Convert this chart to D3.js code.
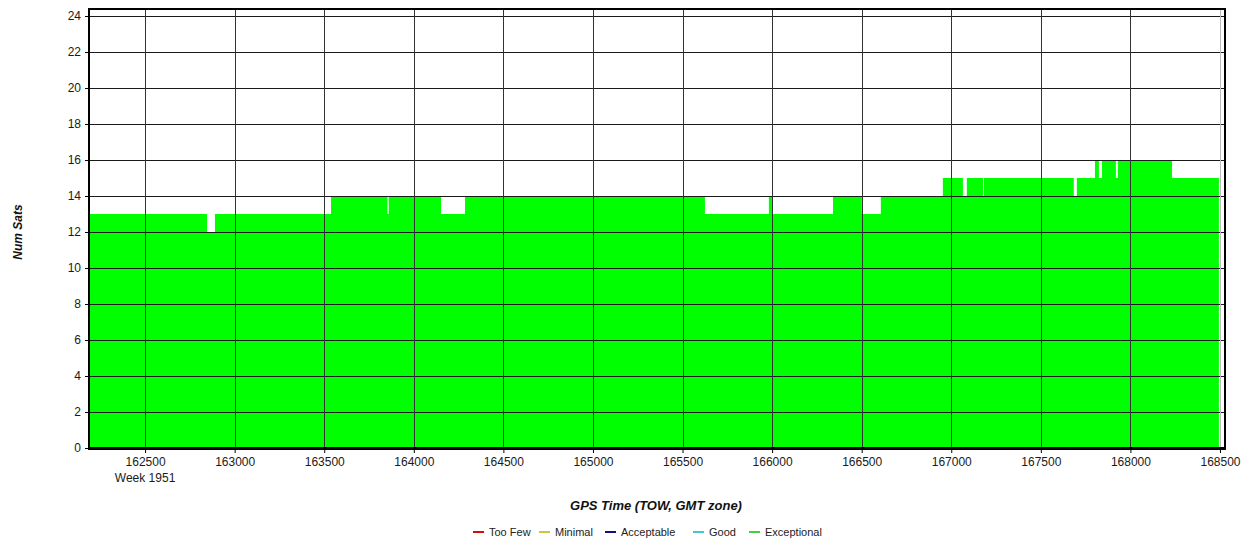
<!DOCTYPE html>
<html>
<head>
<meta charset="utf-8">
<script src="https://cdn.jsdelivr.net/npm/d3@7"></script>
<style>
  html, body { margin: 0; padding: 0; background: #fff; }
  svg { display: block; font-family: "Liberation Sans", Arial, sans-serif; }
</style>
</head>
<body>
<svg id="chart" width="1249" height="544"></svg>
<script>
// --- Datos: inicio de cada tramo (TOW) y número de satélites ---
const stepStart = [162187, 162846, 162890, 163538, 163853, 163860, 164152, 164286,
  165625, 165982, 166005, 166340, 166501, 166607, 166953, 167065, 167087, 167177,
  167182, 167684, 167701, 167802, 167824, 167841, 167919, 167930, 168232];
const stepSats = [13, 12, 13, 14, 13, 14, 13, 14,
  13, 14, 13, 14, 13, 14, 15, 14, 15, 14,
  15, 14, 15, 16, 15, 16, 15, 16, 15];
const dataEnd = 168494;

const xTicks = [162500, 163000, 163500, 164000, 164500, 165000, 165500, 166000,
  166500, 167000, 167500, 168000, 168500];
const yTicks = [0, 2, 4, 6, 8, 10, 12, 14, 16, 18, 20, 22, 24];
const legendItems = ["Too Few", "Minimal", "Acceptable", "Good", "Exceptional"];
const legendColors = ["#d01010", "#c8c840", "#101080", "#40c8d8", "#40d040"];

const svg = d3.select("#chart");
const plotLeft = 89, plotRight = 1225, plotTop = 9, plotBottom = 448;

const x = d3.scaleLinear().domain([162187, 168528]).range([plotLeft, plotRight]);
const y = d3.scaleLinear().domain([0, 24.39]).range([plotBottom, plotTop]);

// serie de puntos para el área escalonada
const points = stepStart.map((t, i) => ({ t, v: stepSats[i] }));
points.push({ t: dataEnd, v: stepSats[stepSats.length - 1] });

const area = d3.area()
  .curve(d3.curveStepAfter)
  .x(d => x(d.t))
  .y0(y(0))
  .y1(d => y(d.v));

svg.append("path")
  .datum(points)
  .attr("d", area)
  .attr("fill", "#00ff00");

// rejilla encima del área
const grid = svg.append("g").attr("shape-rendering", "crispEdges");
grid.selectAll("line.h")
  .data(yTicks.filter(d => d > 0))
  .join("line")
  .attr("x1", plotLeft).attr("x2", plotRight)
  .attr("y1", d => Math.round(y(d)) + 0.5).attr("y2", d => Math.round(y(d)) + 0.5)
  .attr("stroke", "#1a1a1a");
grid.selectAll("line.v")
  .data(xTicks)
  .join("line")
  .attr("x1", d => Math.round(x(d)) + 0.5).attr("x2", d => Math.round(x(d)) + 0.5)
  .attr("y1", plotTop).attr("y2", plotBottom)
  .attr("stroke", d => d === 168500 ? "#bbb" : "#333");

// marco
svg.append("rect")
  .attr("x", plotLeft).attr("y", plotTop)
  .attr("width", plotRight - plotLeft).attr("height", plotBottom - plotTop)
  .attr("fill", "none").attr("stroke", "#000").attr("stroke-width", 2);
svg.append("line")
  .attr("x1", plotLeft - 1).attr("x2", plotRight + 1)
  .attr("y1", plotBottom + 0.5).attr("y2", plotBottom + 0.5)
  .attr("stroke", "#000").attr("stroke-width", 3);

// ejes
const yAxis = svg.append("g")
  .attr("transform", `translate(${plotLeft},0)`)
  .call(d3.axisLeft(y).tickValues(yTicks).tickSize(4).tickPadding(4));
const xAxis = svg.append("g")
  .attr("transform", `translate(0,${plotBottom + 1})`)
  .call(d3.axisBottom(x).tickValues(xTicks).tickSize(4).tickPadding(4).tickFormat(d3.format("d")));
[yAxis, xAxis].forEach(a => {
  a.select(".domain").remove();
  a.selectAll(".tick line").attr("stroke", "#000");
  a.selectAll(".tick text")
    .attr("font-size", 12)
    .attr("font-family", "Liberation Sans, Arial, sans-serif")
    .attr("fill", "#1a1a1a");
});

svg.append("text")
  .attr("x", x(162500)).attr("y", 482)
  .attr("text-anchor", "middle")
  .attr("font-size", 12).attr("fill", "#1a1a1a")
  .text("Week 1951");

// títulos
svg.append("text")
  .attr("transform", "translate(22,232) rotate(-90)")
  .attr("text-anchor", "middle")
  .attr("font-size", 12).attr("font-weight", "bold").attr("font-style", "italic")
  .attr("fill", "#111")
  .text("Num Sats");

svg.append("text")
  .attr("x", 656).attr("y", 510)
  .attr("text-anchor", "middle")
  .attr("font-size", 13).attr("font-weight", "bold").attr("font-style", "italic")
  .attr("fill", "#111")
  .text("GPS Time (TOW, GMT zone)");

// leyenda
const legendX = [473, 539, 605, 693, 749];
const legend = svg.append("g");
legendItems.forEach((name, i) => {
  const g = legend.append("g").attr("transform", `translate(${legendX[i]},532)`);
  g.append("line").attr("x1", 0).attr("x2", 11).attr("y1", 0).attr("y2", 0)
    .attr("stroke", legendColors[i]).attr("stroke-width", 2);
  g.append("text").attr("x", 16).attr("y", 4)
    .attr("font-size", 11).attr("fill", "#222")
    .text(name);
});
</script>
</body>
</html>
